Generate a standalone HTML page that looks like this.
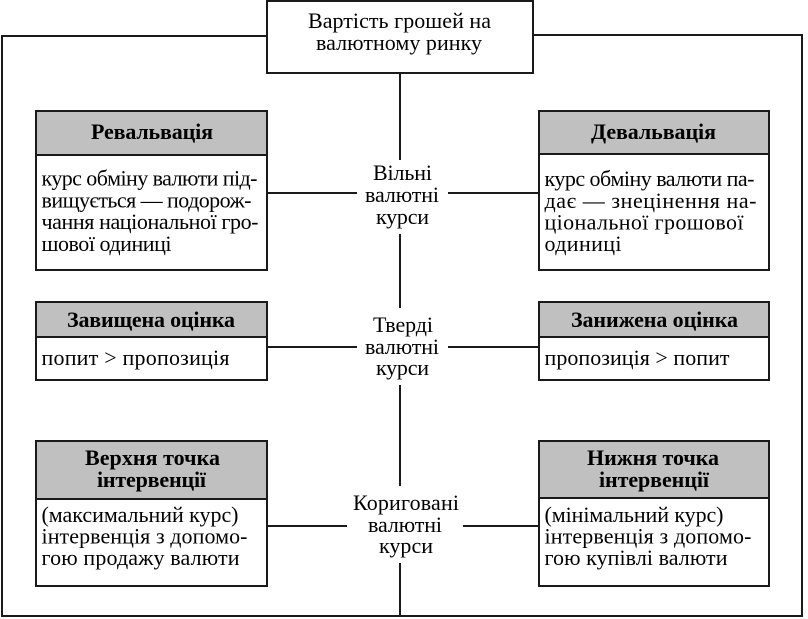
<!DOCTYPE html>
<html><head><meta charset="utf-8">
<style>
html,body{margin:0;padding:0;background:#fff;}
body{width:808px;height:619px;position:relative;overflow:hidden;}
svg{position:absolute;left:0;top:0;}
text{font-family:"Liberation Serif","DejaVu Serif",serif;font-size:22px;fill:#000;}
.b{font-weight:bold;}
</style></head><body>
<svg width="808" height="619" viewBox="0 0 808 619">
<g fill="none" stroke="#1a1a1a" stroke-width="2">
<polyline points="267,36 2,36 2,616 802,616 802,35 533,35"/>
<rect x="267" y="1" width="266" height="72" fill="#fff"/>
<line x1="400" y1="73" x2="400" y2="160"/>
<line x1="400" y1="234" x2="400" y2="308"/>
<line x1="400" y1="385" x2="400" y2="486"/>
<line x1="400" y1="563" x2="400" y2="616"/>
<line x1="267" y1="193" x2="357" y2="193"/>
<line x1="448" y1="193" x2="539" y2="193"/>
<line x1="267" y1="347" x2="357" y2="347"/>
<line x1="448" y1="347" x2="539" y2="347"/>
<line x1="267" y1="526" x2="347" y2="526"/>
<line x1="463" y1="526" x2="539" y2="526"/>
<rect x="36" y="111" width="231" height="44" fill="#c0c0c0"/>
<rect x="36" y="155" width="231" height="115" fill="#fff"/>
<rect x="539" y="111" width="230" height="43" fill="#c0c0c0"/>
<rect x="539" y="154" width="230" height="116" fill="#fff"/>
<rect x="36" y="302" width="231" height="35" fill="#c0c0c0"/>
<rect x="36" y="337" width="231" height="43" fill="#fff"/>
<rect x="539" y="302" width="230" height="35" fill="#c0c0c0"/>
<rect x="539" y="337" width="230" height="43" fill="#fff"/>
<rect x="36" y="441" width="231" height="58" fill="#c0c0c0"/>
<rect x="36" y="499" width="231" height="87" fill="#fff"/>
<rect x="539" y="441" width="230" height="57" fill="#c0c0c0"/>
<rect x="539" y="498" width="230" height="88" fill="#fff"/>
</g>

<!-- top box -->
<text x="308" y="28" textLength="183" lengthAdjust="spacing">Вартість грошей на</text>
<text x="316" y="50" textLength="166" lengthAdjust="spacing">валютному ринку</text>

<!-- center labels -->
<text x="373" y="180" textLength="59" lengthAdjust="spacing">Вільні</text>
<text x="365" y="202" textLength="74" lengthAdjust="spacing">валютні</text>
<text x="376" y="224" textLength="53" lengthAdjust="spacing">курси</text>

<text x="373" y="332" textLength="60" lengthAdjust="spacing">Тверді</text>
<text x="365" y="354" textLength="74" lengthAdjust="spacing">валютні</text>
<text x="376" y="375" textLength="53" lengthAdjust="spacing">курси</text>

<text x="353" y="510" textLength="106" lengthAdjust="spacing">Кориговані</text>
<text x="368" y="532" textLength="74" lengthAdjust="spacing">валютні</text>
<text x="379" y="553" textLength="54" lengthAdjust="spacing">курси</text>

<!-- Ревальвація -->
<text class="b" x="91" y="139" textLength="122" lengthAdjust="spacing">Ревальвація</text>
<text x="41.5" y="185.5" textLength="216" lengthAdjust="spacing">курс обміну валюти під-</text>
<text x="41.5" y="207.5" textLength="210" lengthAdjust="spacing">вищується — подорож-</text>
<text x="41.5" y="229" textLength="217" lengthAdjust="spacing">чання національної гро-</text>
<text x="41.5" y="251" textLength="130" lengthAdjust="spacing">шової одиниці</text>

<!-- Девальвація -->
<text class="b" x="591" y="139" textLength="125" lengthAdjust="spacing">Девальвація</text>
<text x="544.5" y="186" textLength="210" lengthAdjust="spacing">курс обміну валюти па-</text>
<text x="544.5" y="208" textLength="212" lengthAdjust="spacing">дає — знецінення на-</text>
<text x="544.5" y="229.5" textLength="199" lengthAdjust="spacing">ціональної грошової</text>
<text x="544.5" y="251" textLength="77" lengthAdjust="spacing">одиниці</text>

<!-- Завищена -->
<text class="b" x="67" y="327" textLength="168" lengthAdjust="spacing">Завищена оцінка</text>
<text x="41.5" y="365" textLength="188" lengthAdjust="spacing">попит &gt; пропозиція</text>

<!-- Занижена -->
<text class="b" x="571" y="327" textLength="167" lengthAdjust="spacing">Занижена оцінка</text>
<text x="544.5" y="365" textLength="185" lengthAdjust="spacing">пропозиція &gt; попит</text>

<!-- Верхня -->
<text class="b" x="85" y="465" textLength="135" lengthAdjust="spacing">Верхня точка</text>
<text class="b" x="97" y="487" textLength="109" lengthAdjust="spacing">інтервенції</text>
<text x="41.5" y="522" textLength="197" lengthAdjust="spacing">(максимальний курс)</text>
<text x="41.5" y="543.5" textLength="206" lengthAdjust="spacing">інтервенція з допомо-</text>
<text x="41.5" y="565" textLength="198" lengthAdjust="spacing">гою продажу валюти</text>

<!-- Нижня -->
<text class="b" x="587" y="465" textLength="132" lengthAdjust="spacing">Нижня точка</text>
<text class="b" x="599" y="487" textLength="110" lengthAdjust="spacing">інтервенції</text>
<text x="544.5" y="522" textLength="179" lengthAdjust="spacing">(мінімальний курс)</text>
<text x="544.5" y="543.5" textLength="207" lengthAdjust="spacing">інтервенція з допомо-</text>
<text x="544.5" y="565" textLength="183" lengthAdjust="spacing">гою купівлі валюти</text>
</svg>
</body></html>
